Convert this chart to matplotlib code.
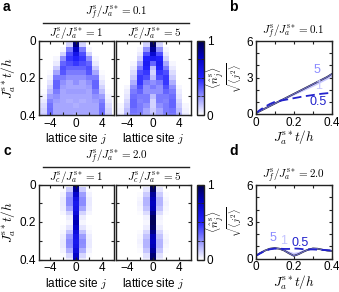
import numpy as np
import matplotlib
matplotlib.use("Agg")
import matplotlib.pyplot as plt
from matplotlib.colors import LinearSegmentedColormap
from matplotlib.ticker import MultipleLocator

plt.rcParams['font.family'] = ['Liberation Sans', 'DejaVu Sans']
plt.rcParams['mathtext.fontset'] = 'cm'

# ---------------- data ----------------
times = [0, 0.025, 0.05, 0.075, 0.1, 0.125, 0.15, 0.175, 0.2, 0.225, 0.25, 0.275, 0.3, 0.325, 0.35, 0.375, 0.4]
sites = [-5, -4, -3, -2, -1, 0, 1, 2, 3, 4, 5]

# site profiles (j = 0..5, symmetric in j), one list per |j|
a1_j0 = [1.0, 0.9, 0.75, 0.6, 0.5, 0.45, 0.35, 0.3, 0.25, 0.25, 0.2, 0.22, 0.2, 0.2, 0.18, 0.2, 0.18]
a1_j1 = [0, 0.1, 0.3, 0.4, 0.45, 0.4, 0.35, 0.3, 0.25, 0.2, 0.2, 0.22, 0.2, 0.18, 0.2, 0.2, 0.2]
a1_j2 = [0, 0, 0.02, 0.1, 0.25, 0.35, 0.4, 0.38, 0.3, 0.25, 0.22, 0.2, 0.2, 0.2, 0.2, 0.2, 0.2]
a1_j3 = [0, 0, 0, 0, 0.02, 0.05, 0.12, 0.2, 0.3, 0.35, 0.35, 0.3, 0.25, 0.22, 0.2, 0.2, 0.2]
a1_j4 = [0, 0, 0, 0, 0, 0, 0, 0.01, 0.03, 0.06, 0.1, 0.15, 0.22, 0.28, 0.32, 0.33, 0.33]
a1_j5 = [0, 0, 0, 0, 0, 0, 0, 0, 0, 0, 0, 0.01, 0.03, 0.05, 0.08, 0.1, 0.12]

a5_j0 = [1.0, 0.95, 0.85, 0.7, 0.55, 0.35, 0.15, 0.1, 0.15, 0.25, 0.3, 0.25, 0.15, 0.1, 0.1, 0.12, 0.15]
a5_j1 = [0, 0.1, 0.25, 0.4, 0.5, 0.55, 0.5, 0.45, 0.4, 0.3, 0.25, 0.25, 0.3, 0.3, 0.25, 0.2, 0.2]
a5_j2 = [0, 0, 0.02, 0.05, 0.1, 0.2, 0.3, 0.4, 0.45, 0.45, 0.4, 0.35, 0.3, 0.28, 0.3, 0.3, 0.28]
a5_j3 = [0, 0, 0, 0, 0, 0.02, 0.05, 0.08, 0.12, 0.18, 0.25, 0.3, 0.33, 0.35, 0.35, 0.32, 0.3]
a5_j4 = [0, 0, 0, 0, 0, 0, 0, 0, 0, 0, 0.02, 0.04, 0.06, 0.09, 0.12, 0.15, 0.18]
a5_j5 = [0, 0, 0, 0, 0, 0, 0, 0, 0, 0, 0, 0, 0, 0, 0.02, 0.03, 0.05]

c1_j0 = [0.95, 0.85, 0.72, 0.62, 0.58, 0.6, 0.66, 0.74, 0.8, 0.74, 0.66, 0.6, 0.58, 0.6, 0.66, 0.74, 0.8]
c1_j1 = [0, 0.12, 0.22, 0.26, 0.26, 0.2, 0.1, 0.04, 0.02, 0.06, 0.14, 0.22, 0.26, 0.25, 0.18, 0.09, 0.04]
c1_j2 = [0, 0.01, 0.03, 0.05, 0.05, 0.04, 0.02, 0, 0, 0.01, 0.02, 0.04, 0.05, 0.05, 0.03, 0.01, 0]
c1_j3 = [0] * 17
c1_j4 = [0] * 17
c1_j5 = [0] * 17

c5_j0 = [1.0, 0.95, 0.85, 0.8, 0.78, 0.8, 0.88, 0.95, 0.97, 0.95, 0.88, 0.8, 0.78, 0.8, 0.85, 0.92, 0.95]
c5_j1 = [0, 0.06, 0.12, 0.17, 0.17, 0.14, 0.08, 0.03, 0.02, 0.04, 0.09, 0.14, 0.17, 0.17, 0.13, 0.07, 0.04]
c5_j2 = [0, 0, 0.01, 0.02, 0.03, 0.02, 0.01, 0, 0, 0, 0.01, 0.02, 0.03, 0.02, 0.01, 0, 0]
c5_j3 = [0] * 17
c5_j4 = [0] * 17
c5_j5 = [0] * 17

# spreading sqrt(<j^2>) curves
t_line = [0, 0.025, 0.05, 0.075, 0.1, 0.125, 0.15, 0.175, 0.2, 0.225, 0.25, 0.275, 0.3, 0.325, 0.35, 0.375, 0.4]
b_ref = [0.05, 0.25, 0.45, 0.65, 0.85, 1.05, 1.25, 1.45, 1.65, 1.85, 2.05, 2.25, 2.45, 2.65, 2.85, 3.05, 3.3]
b_5 = [0.05, 0.25, 0.45, 0.65, 0.85, 1.05, 1.25, 1.45, 1.65, 1.85, 2.05, 2.25, 2.45, 2.65, 2.85, 3.05, 3.3]
b_1 = [0.05, 0.27, 0.48, 0.68, 0.87, 1.05, 1.22, 1.4, 1.58, 1.76, 1.94, 2.12, 2.3, 2.5, 2.7, 2.9, 3.1]
b_05 = [0.05, 0.35, 0.6, 0.82, 0.99, 1.08, 1.15, 1.22, 1.3, 1.37, 1.45, 1.5, 1.56, 1.62, 1.67, 1.71, 1.75]

d_ref = [0.2, 0.45, 0.65, 0.8, 0.85, 0.8, 0.65, 0.42, 0.22, 0.35, 0.55, 0.72, 0.82, 0.8, 0.72, 0.65, 0.62]
d_5 = [0.2, 0.45, 0.65, 0.8, 0.85, 0.8, 0.65, 0.42, 0.22, 0.35, 0.55, 0.72, 0.82, 0.8, 0.72, 0.65, 0.62]
d_1 = [0.2, 0.45, 0.65, 0.78, 0.83, 0.8, 0.68, 0.5, 0.38, 0.45, 0.6, 0.72, 0.8, 0.78, 0.72, 0.66, 0.63]
d_05 = [0.2, 0.42, 0.62, 0.75, 0.8, 0.8, 0.78, 0.78, 0.82, 0.8, 0.76, 0.74, 0.74, 0.72, 0.7, 0.68, 0.66]

line_labels = ['5', '1', '0.5']
line_colors = ['#8c8cff', '#c4c4ff', '#2222cc']


def build(profiles):
    half = np.array(profiles)  # shape (6, nt): |j| = 0..5
    full = np.vstack([half[::-1], half[1:]])  # j = -5..5
    return full.T  # (nt, nsites)


hm_a1 = build([a1_j0, a1_j1, a1_j2, a1_j3, a1_j4, a1_j5])
hm_a5 = build([a5_j0, a5_j1, a5_j2, a5_j3, a5_j4, a5_j5])
hm_c1 = build([c1_j0, c1_j1, c1_j2, c1_j3, c1_j4, c1_j5])
hm_c5 = build([c5_j0, c5_j1, c5_j2, c5_j3, c5_j4, c5_j5])

cmap = LinearSegmentedColormap.from_list(
    'wb', [(0, '#ffffff'), (0.5, '#2222ff'), (0.78, '#0000c0'), (1, '#00004a')])

W, H = 339, 292
fig = plt.figure(figsize=(W / 100, H / 100), dpi=100)


def ax_px(x0, y0, x1, y1):
    return fig.add_axes([x0 / W, 1 - y1 / H, (x1 - x0) / W, (y1 - y0) / H])


def ftext(x, y, s, **kw):
    return fig.text(x / W, 1 - y / H, s, **kw)


FS = 8.5
TFS = 8
frame_col = '#222222'


def style(ax):
    for s in ax.spines.values():
        s.set_color(frame_col)
        s.set_linewidth(1.0)
    ax.tick_params(which='both', direction='in', top=True, right=True,
                   color=frame_col, labelsize=FS, pad=2)
    ax.tick_params(which='major', length=2.5, width=0.8)
    ax.tick_params(which='minor', length=2.5, width=0.8)


def heat(ax, data, left):
    dt = times[1] - times[0]
    ax.imshow(data, cmap=cmap, vmin=0, vmax=1, aspect='auto',
              interpolation='nearest',
              extent=[sites[0] - 0.5, sites[-1] + 0.5, times[-1] + dt / 2, times[0] - dt / 2])
    ax.set_xlim(-5.7, 5.7)
    ax.set_ylim(0.4, 0)
    ax.set_xticks([-4, 0, 4])
    ax.xaxis.set_minor_locator(MultipleLocator(2))
    ax.set_yticks([0, 0.2, 0.4])
    ax.yaxis.set_minor_locator(MultipleLocator(0.1))
    style(ax)
    if left:
        ax.set_yticklabels(['0', '0.2', '0.4'])
        ax.set_ylabel(r'$J_a^{\rm s\ast}t/h$', fontsize=9.5, labelpad=1)
    else:
        ax.set_yticklabels([])
    ax.set_xlabel(r'lattice site $j$', fontsize=FS, labelpad=1)


def row(ytop, ybot, d1, d5, jf_text, curves):
    a1 = ax_px(39, ytop, 113.5, ybot)
    a5 = ax_px(116, ytop, 190.5, ybot)
    heat(a1, d1, True)
    heat(a5, d5, False)
    cax = ax_px(197, ytop, 204, ybot)
    sm = matplotlib.cm.ScalarMappable(cmap=cmap, norm=matplotlib.colors.Normalize(0, 1))
    cb = fig.colorbar(sm, cax=cax, ticks=[0, 1])
    cb.outline.set_color(frame_col)
    cb.outline.set_linewidth(1.0)
    cax.yaxis.set_minor_locator(MultipleLocator(0.25))
    cax.tick_params(which='both', direction='in', length=2, color=frame_col,
                    labelsize=FS, pad=2, left=True)
    cax.set_yticklabels(['0', '1'])
    ymid = (ytop + ybot) / 2
    ftext(215, ymid, r'$\langle\hat{n}_j^{\rm s}\rangle$', fontsize=8,
          rotation=90, ha='center', va='center')

    # group titles
    ftext(116, ytop - 27.5, jf_text, ha='center', va='center', fontsize=TFS)
    fig.add_artist(plt.Line2D([43 / W, 189 / W], [1 - (ytop - 17.5) / H] * 2,
                              color='#222222', lw=1.0, transform=fig.transFigure))
    ftext(76, ytop - 7.5, r'$J_c^{\rm s}/J_a^{\rm s\ast}=1$',
          ha='center', va='center', fontsize=TFS)
    ftext(154, ytop - 7.5, r'$J_c^{\rm s}/J_a^{\rm s\ast}=5$',
          ha='center', va='center', fontsize=TFS)

    # line panel
    ax = ax_px(255.5, ytop + 0.5, 332, ybot - 1)
    ref, c5, c1, c05 = curves
    ax.plot(t_line, c1, color=line_colors[1], lw=1.3)
    ax.plot(t_line, ref, color='black', lw=1.2)
    ax.plot(t_line, c5, color=line_colors[0], lw=0.8, alpha=0.8)
    ax.plot(t_line, c05, color=line_colors[2], lw=1.3, dashes=(5, 2.5))
    ax.set_xlim(0, 0.4)
    ax.set_ylim(0, 6)
    ax.set_xticks([0, 0.2, 0.4])
    ax.set_xticklabels(['0', '0.2', '0.4'])
    ax.xaxis.set_minor_locator(MultipleLocator(0.1))
    ax.set_yticks([0, 3, 6])
    ax.yaxis.set_minor_locator(MultipleLocator(1))
    style(ax)
    ax.set_xlabel(r'$J_a^{\rm s\ast}t/h$', fontsize=9.5, labelpad=0)
    ftext(235, ymid, r'$\sqrt{\langle j^2\rangle}$', fontsize=7,
          rotation=90, ha='center', va='center')
    ax.set_title(jf_text, fontsize=TFS, pad=4)
    return ax


ax_b = row(40.5, 115, hm_a1, hm_a5, r'$J_f^{\rm s}/J_a^{\rm s\ast}=0.1$',
           (b_ref, b_5, b_1, b_05))
ax_d = row(184.5, 259.5, hm_c1, hm_c5, r'$J_f^{\rm s}/J_a^{\rm s\ast}=2.0$',
           (d_ref, d_5, d_1, d_05))

# curve labels
for lab, col, (x, y) in zip(line_labels, line_colors, [(0.322, 3.65), (0.33, 2.3), (0.325, 1.0)]):
    ax_b.text(x, y, lab, color=col, fontsize=9, ha='center', va='center')
for lab, col, (x, y) in zip(line_labels, line_colors, [(0.09, 1.65), (0.147, 1.45), (0.235, 1.3)]):
    ax_d.text(x, y, lab, color=col, fontsize=9, ha='center', va='center')

# panel letters
for lab, (x, y) in zip('abcd', [(3, 7), (229, 7), (3, 151), (229, 151)]):
    ftext(x, y, lab, fontsize=10, fontweight='bold', ha='left', va='center')

fig.savefig('out.png', dpi=100)
